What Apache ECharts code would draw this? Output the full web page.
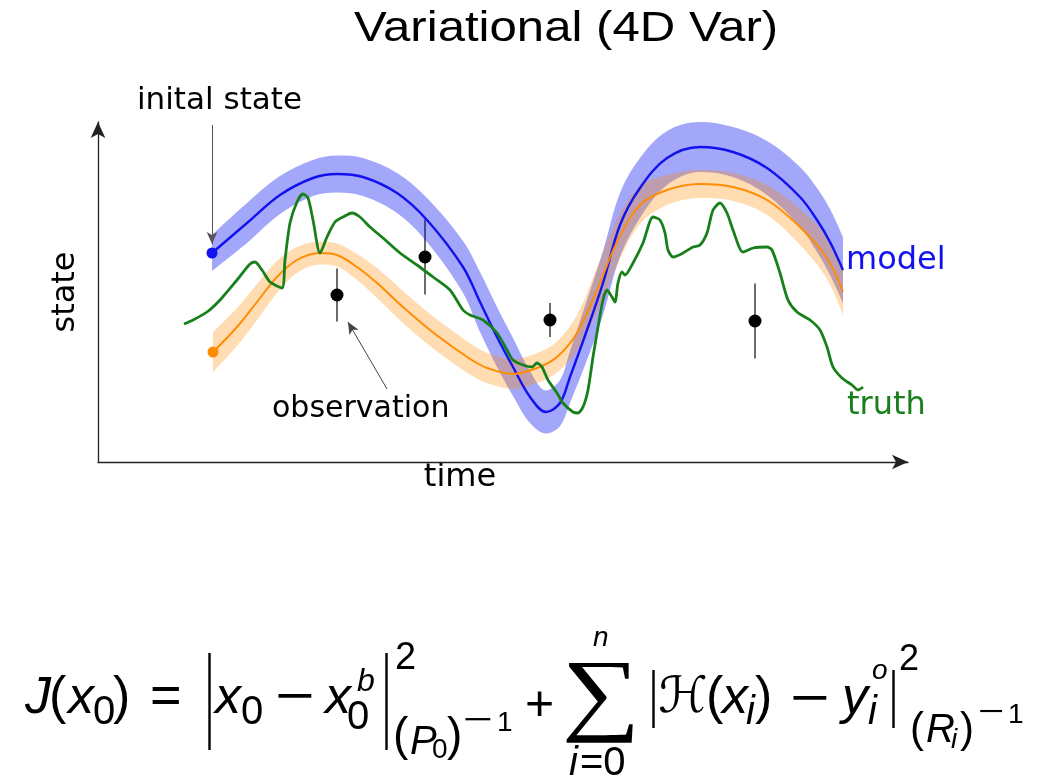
<!DOCTYPE html>
<html>
<head>
<meta charset="utf-8">
<script src="https://cdn.jsdelivr.net/npm/echarts@6/dist/echarts.min.js"></script>
<style>
html, body { margin: 0; padding: 0; background: #ffffff; }
#chart { width: 1056px; height: 784px; }
</style>
</head>
<body>
<div id="chart"></div>
<script>
// Forecast started from the initial state (blue) with its uncertainty half-width
const modelTime = [11.4, 14.9, 18.2, 21.5, 23.9, 26.5, 29.9, 32.9, 36.5, 38.2, 39.9, 41.5, 43.2, 44.8, 46.2, 47.2, 48.9, 50.5, 52.2, 54.2, 56.9, 60.2, 63.5, 66.9, 70.2, 71.9, 73.2, 74.5];
const modelState = [20.9, 23.9, 26.7, 28.4, 28.8, 28.5, 26.9, 24.2, 19.5, 16.0, 12.5, 9.5, 6.5, 5.0, 5.9, 8.5, 13.2, 17.9, 23.7, 27.4, 30.4, 31.5, 31.0, 29.4, 26.5, 24.2, 22.0, 19.2];
const modelSpread = [1.8, 2.0, 1.9, 1.8, 1.85, 1.9, 2.0, 2.2, 2.6, 3.0, 3.0, 2.9, 2.6, 2.15, 2.3, 2.6, 3.0, 3.2, 3.2, 3.0, 2.7, 2.5, 2.5, 2.7, 3.0, 3.2, 3.3, 3.3];

// Corrected trajectory (orange) with its uncertainty half-width
const analysisTime = [11.5, 13.9, 15.9, 17.9, 19.9, 22.2, 23.9, 25.9, 27.9, 30.5, 33.2, 35.9, 37.7, 39.2, 41.5, 43.9, 45.9, 47.9, 49.9, 51.9, 54.2, 56.9, 60.2, 63.5, 66.9, 70.2, 72.9, 74.5];
const analysisState = [11.0, 13.5, 16.0, 18.5, 20.2, 20.9, 20.7, 19.5, 17.9, 15.5, 13.2, 11.2, 10.0, 9.3, 8.8, 9.4, 10.5, 12.9, 17.2, 22.0, 25.7, 27.2, 27.8, 27.5, 26.2, 23.5, 20.4, 17.0];
const analysisSpread = [2.0, 1.9, 1.8, 1.6, 1.3, 1.15, 1.15, 1.3, 1.5, 1.6, 1.6, 1.6, 1.55, 1.5, 1.5, 1.5, 1.55, 1.8, 2.2, 2.3, 1.9, 1.5, 1.4, 1.4, 1.5, 1.8, 2.1, 2.3];

// True state of the system
const truthTime = [8.6, 9.5, 10.9, 12.2, 13.9, 15.2, 15.7, 16.4, 17.2, 18.4, 18.7, 19.2, 19.9, 20.5, 21.0, 21.5, 22.2, 22.9, 23.7, 24.5, 25.4, 26.2, 27.2, 28.5, 30.2, 31.9, 33.5, 35.2, 36.5, 37.2, 38.5, 39.9, 40.9, 41.5, 42.5, 43.4, 43.9, 44.4, 45.0, 45.9, 46.5, 47.5, 48.0, 48.5, 49.0, 49.5, 50.0, 50.5, 50.9, 51.4, 51.7, 52.0, 52.4, 52.7, 53.5, 54.5, 55.5, 56.2, 56.7, 57.0, 57.5, 58.5, 59.5, 60.2, 60.9, 61.5, 62.2, 62.9, 63.5, 64.5, 65.5, 66.9, 67.4, 68.2, 69.0, 69.9, 71.2, 72.2, 72.9, 73.5, 74.4, 75.4, 76.0, 76.5];
const truthState = [13.8, 14.2, 15.0, 16.2, 18.2, 19.8, 20.0, 19.2, 18.0, 17.4, 20.2, 23.9, 26.0, 26.8, 26.4, 24.2, 20.9, 22.5, 24.0, 24.5, 24.9, 24.5, 23.5, 22.4, 20.9, 19.7, 18.5, 17.2, 15.2, 14.7, 14.2, 12.9, 11.2, 10.2, 9.7, 9.5, 9.9, 9.5, 8.2, 6.9, 5.9, 5.0, 4.9, 5.5, 7.2, 10.5, 13.5, 16.2, 17.2, 16.5, 16.0, 17.9, 19.0, 18.7, 19.9, 21.9, 24.5, 24.2, 22.9, 21.2, 20.5, 20.9, 21.5, 21.7, 22.9, 25.2, 25.9, 24.9, 23.2, 21.0, 21.4, 21.5, 21.2, 18.9, 16.2, 15.0, 14.2, 13.2, 11.5, 9.5, 8.4, 7.7, 7.2, 7.5];

// Observations and their error
const obsTime = [23.9, 32.7, 45.2, 65.7];
const obsValue = [16.7, 20.5, 14.2, 14.1];
const obsError = [2.65, 3.75, 1.7, 3.75];

// Text
const titleText = 'Variational (4D Var)';
const axisNames = { x: 'time', y: 'state' };
const curveNames = { model: 'model', truth: 'truth' };
const noteInitial = 'inital state';
const noteObservation = 'observation';

const pairs = (xs, ys) => xs.map((x, i) => [x, ys[i]]);

const BLUE = '#1212ee';
const ORANGE = '#ff8c00';
const GREEN = '#17801a';
const SANS = 'DejaVu Sans';
const MATH = 'Liberation Sans';

// Shaded band: lower edge plus a stacked width. The state value is kept in the
// first column so that the stack runs along the state axis.
function bandSeries(name, times, centre, spread, fill) {
  const lower = times.map((t, i) => [centre[i] - spread[i], t]);
  const width = times.map((t, i) => [2 * spread[i], t]);
  const common = {
    type: 'line', stack: name, smooth: 0.35, symbol: 'none', silent: true,
    encode: { x: 1, y: 0 },
    lineStyle: { opacity: 0, width: 0 }
  };
  return [
    Object.assign({}, common, { name: name + '-lo', data: lower }),
    Object.assign({}, common, { name: name + '-hi', data: width, areaStyle: { color: fill, opacity: 1 } })
  ];
}

// Cost function, laid out glyph by glyph: [text, left, baseline, size, italic, horizontal stretch]
const MINUS = '\u2212';
const formulaGlyphs = [
  ['J', 25, 717, 52, true], ['(', 49, 717, 52, false], ['x', 68, 717, 52, true], ['0', 93, 727, 40, false], [')', 113, 717, 52, false],
  ['=', 150, 717, 54, false],
  ['x', 215, 717, 52, true], ['0', 241, 727, 40, false], [MINUS, 275, 717, 52, false, 1.3],
  ['x', 325, 717, 52, true], ['0', 347, 732, 40, false], ['b', 357, 693, 32, true],
  ['2', 395, 672, 38, false],
  ['(', 393, 753, 46, false], ['P', 410, 757, 40, true], ['0', 432, 760, 28, false], [')', 447, 753, 46, false],
  [MINUS, 463, 732, 32, false, 1.6], ['1', 497, 733, 28, false],
  ['+', 525, 724, 50, false],
  ['n', 593, 648, 28, true], ['i', 569, 778, 40, true], ['=0', 580, 778, 40, false],
  ['(', 706, 717, 52, false], ['x', 722, 717, 52, true], ['i', 746, 727, 40, true], [')', 755, 717, 52, false],
  [MINUS, 790, 719, 52, false, 1.3],
  ['y', 842, 717, 52, true], ['i', 868, 727, 40, true], ['o', 872, 681, 28, true],
  ['2', 899, 673, 36, false],
  ['(', 910, 745, 42, false], ['R', 926, 745, 40, true], ['i', 951, 750, 28, true], [')', 960, 745, 42, false],
  [MINUS, 978, 723, 30, false, 1.5], ['1', 1008, 725, 28, false]
];
const formulaBars = [[209.5, 653, 750], [386.5, 653, 750], [653.5, 670, 728], [893.5, 670, 728]];

const graphics = [];
graphics.push({
  type: 'text', x: 566, y: 29, scaleX: 1.17, silent: true,
  style: { text: titleText, x: 0, y: 0, align: 'center', verticalAlign: 'middle', fontFamily: 'Liberation Sans', fontSize: 42, fill: '#000' }
});
graphics.push({
  type: 'text', x: 137, y: 101, silent: true,
  style: { text: noteInitial, align: 'left', verticalAlign: 'middle', fontFamily: SANS, fontSize: 31, fill: '#000' }
});
graphics.push({
  type: 'text', x: 272, y: 409, silent: true,
  style: { text: noteObservation, align: 'left', verticalAlign: 'middle', fontFamily: SANS, fontSize: 30, fill: '#000' }
});
formulaGlyphs.forEach(([t, x, base, size, italic, stretch]) => {
  graphics.push({
    type: 'text', x: x, y: base - 0.3465 * size, scaleX: stretch || 1, silent: true,
    style: { text: t, x: 0, y: 0, align: 'left', verticalAlign: 'middle', fontFamily: MATH, fontStyle: italic ? 'italic' : 'normal', fontSize: size, fill: '#000' }
  });
});
graphics.push({
  type: 'text', x: 601, y: 699, scaleX: 1.2, silent: true,
  style: { text: '\u2211', x: 0, y: 0, align: 'center', verticalAlign: 'middle', fontFamily: 'Liberation Serif', fontSize: 92, fill: '#000' }
});
graphics.push({
  type: 'text', x: 683, y: 699, silent: true,
  style: { text: '\u210B', align: 'center', verticalAlign: 'middle', fontFamily: 'DejaVu Sans', fontStyle: 'italic', fontSize: 50, fill: '#000' }
});
formulaBars.forEach(([x, y1, y2]) => {
  graphics.push({ type: 'line', silent: true, shape: { x1: x, y1: y1, x2: x, y2: y2 }, style: { stroke: '#000', lineWidth: 2.4 } });
});

const chart = echarts.init(document.getElementById('chart'), null, { renderer: 'canvas' });

const option = {
  animation: false,
  backgroundColor: '#ffffff',
  grid: { left: 98, right: 148, top: 122, bottom: 322, outerBoundsMode: 'none', containLabel: false },
  xAxis: {
    type: 'value', min: 0, max: 81,
    name: axisNames.x, nameLocation: 'middle', nameGap: 0,
    nameTextStyle: { fontFamily: SANS, fontSize: 32, color: '#000', padding: [0, 86, 0, 0] },
    axisLine: { show: true, onZero: false, symbol: ['none', 'arrow'], symbolSize: [11, 16], lineStyle: { color: '#222', width: 1.3 } },
    axisTick: { show: false }, axisLabel: { show: false }, splitLine: { show: false }
  },
  yAxis: {
    type: 'value', min: 0, max: 34,
    name: axisNames.y, nameLocation: 'middle', nameGap: 16, nameRotate: 90,
    nameTextStyle: { fontFamily: SANS, fontSize: 32, color: '#000' },
    axisLine: { show: true, onZero: false, symbol: ['none', 'arrow'], symbolSize: [11, 16], lineStyle: { color: '#222', width: 1.3 } },
    axisTick: { show: false }, axisLabel: { show: false }, splitLine: { show: false }
  },
  graphic: graphics,
  series: [
    ...bandSeries('modelBand', modelTime, modelState, modelSpread, 'rgba(5, 15, 240, 0.37)'),
    {
      name: 'model', type: 'line', data: pairs(modelTime, modelState), smooth: 0.35, symbol: 'none', silent: true,
      lineStyle: { color: BLUE, width: 2.4 },
      endLabel: { show: true, formatter: curveNames.model, color: BLUE, fontFamily: SANS, fontSize: 32, distance: 3, offset: [0, -9] }
    },
    ...bandSeries('analysisBand', analysisTime, analysisState, analysisSpread, 'rgba(255, 140, 0, 0.3)'),
    {
      name: 'analysis', type: 'line', data: pairs(analysisTime, analysisState), smooth: 0.35, symbol: 'none', silent: true,
      lineStyle: { color: ORANGE, width: 1.9 }
    },
    {
      name: 'truth', type: 'line', data: pairs(truthTime, truthState), smooth: 0.25, symbol: 'none', silent: true,
      lineStyle: { color: GREEN, width: 2.8 },
      endLabel: { show: true, formatter: curveNames.truth, color: GREEN, fontFamily: SANS, fontSize: 32, distance: 5, offset: [-21, 19] }
    },
    {
      name: 'obsError', type: 'custom', silent: true,
      data: obsTime.map((t, i) => [t, obsValue[i] - obsError[i], obsValue[i] + obsError[i]]),
      encode: { x: 0, y: [1, 2] },
      renderItem: (params, api) => {
        const lo = api.coord([api.value(0), api.value(1)]);
        const hi = api.coord([api.value(0), api.value(2)]);
        return { type: 'line', shape: { x1: lo[0], y1: lo[1], x2: hi[0], y2: hi[1] }, style: { stroke: '#3a3a3a', lineWidth: 1.5 } };
      }
    },
    {
      name: 'observations', type: 'scatter', data: pairs(obsTime, obsValue), symbol: 'circle', symbolSize: 13, silent: true,
      itemStyle: { color: '#000', opacity: 1 },
      markLine: {
        silent: true, symbol: ['none', 'arrow'], symbolSize: [8, 12], label: { show: false },
        lineStyle: { color: '#444', width: 1, type: 'solid' },
        data: [[{ coord: [28.9, 7.3] }, { coord: [25.0, 14.0] }]]
      }
    },
    {
      name: 'initial', type: 'scatter', symbol: 'circle', symbolSize: 11, silent: true,
      data: [
        { value: [modelTime[0], modelState[0]], itemStyle: { color: BLUE, opacity: 1 } },
        { value: [analysisTime[0], analysisState[0]], itemStyle: { color: ORANGE, opacity: 1 } }
      ],
      markLine: {
        silent: true, symbol: ['none', 'arrow'], symbolSize: [8, 12], label: { show: false },
        lineStyle: { color: '#555', width: 1, type: 'solid' },
        data: [[{ coord: [modelTime[0], 33.7] }, { coord: [modelTime[0], 21.8] }]]
      }
    }
  ]
};

chart.setOption(option);
</script>
</body>
</html>
